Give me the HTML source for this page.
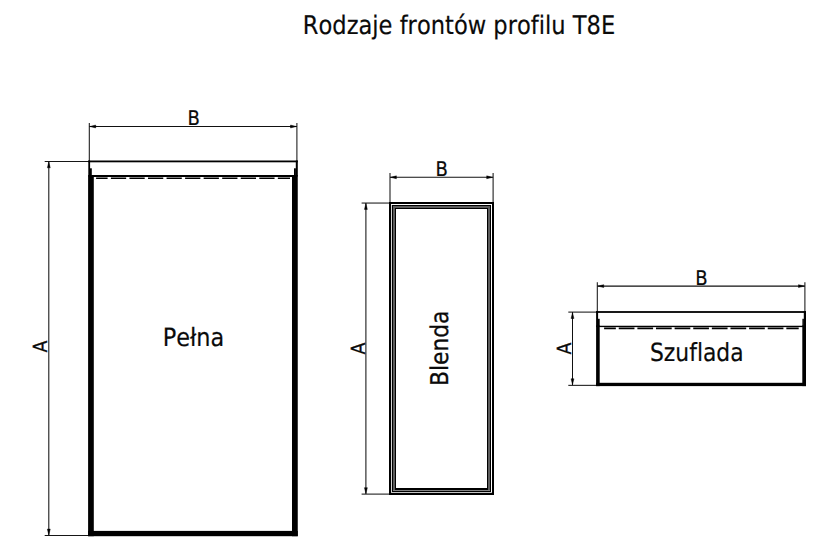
<!DOCTYPE html>
<html lang="pl">
<head>
<meta charset="utf-8">
<title>Rodzaje frontów profilu T8E</title>
<style>
html,body{margin:0;padding:0;background:#fff;}
body{width:836px;height:558px;overflow:hidden;}
svg{display:block;}
text{font-family:"DejaVu Sans","Liberation Sans",sans-serif;fill:#0a0a0a;stroke:#0a0a0a;stroke-width:0.2;text-rendering:geometricPrecision;font-variant-ligatures:none;font-feature-settings:"liga" 0,"clig" 0;font-kerning:none;}
.thin{stroke:#111;stroke-width:1.05;fill:none;}
.ext{stroke:#161616;stroke-width:1.05;fill:none;}
.k{fill:#000;}
.ar{fill:#000;stroke:#000;stroke-width:0.45;stroke-linejoin:round;}
</style>
</head>
<body>
<svg width="836" height="558" viewBox="0 0 836 558">
<rect width="836" height="558" fill="#fff"/>

<!-- title -->
<text x="302.8" y="33.8" font-size="25.7" textLength="312.4" lengthAdjust="spacingAndGlyphs">Rodzaje frontów profilu T8E</text>

<!-- ===== Pełna ===== -->
<g id="pelna">
  <line class="ext" x1="89.3" y1="122.9" x2="89.3" y2="161"/>
  <line class="ext" x1="296.9" y1="122.9" x2="296.9" y2="161"/>
  <line class="thin" x1="89.3" y1="126.5" x2="296.9" y2="126.5"/>
  <path class="ar" d="M89.90,126.50 L95.70,125.05 L95.70,127.95 Z"/>
  <path class="ar" d="M296.30,126.50 L290.50,125.05 L290.50,127.95 Z"/>
  <text x="187.4" y="124.6" font-size="20.2" textLength="12.4" lengthAdjust="spacingAndGlyphs">B</text>

  <line class="ext" x1="44.7" y1="161.4" x2="89" y2="161.4"/>
  <line class="ext" x1="44.7" y1="535.5" x2="89" y2="535.5"/>
  <line class="thin" x1="48.8" y1="161.4" x2="48.8" y2="535.5"/>
  <path class="ar" d="M48.80,162.00 L47.35,167.80 L50.25,167.80 Z"/>
  <path class="ar" d="M48.80,534.90 L47.35,529.10 L50.25,529.10 Z"/>
  <text transform="translate(47.3 352.5) rotate(-90)" style="stroke-width:0.32" font-size="19.5" textLength="11.9" lengthAdjust="spacingAndGlyphs">A</text>

  <!-- body -->
  <rect class="k" x="88.3" y="160.5" width="209.5" height="1.8"/>
  <rect class="k" x="88.3" y="160.6" width="1.8" height="16"/>
  <rect class="k" x="295.8" y="160.6" width="2" height="16"/>
  <rect class="k" x="90" y="168.3" width="1.8" height="8"/>
  <rect class="k" x="294" y="168.3" width="1.9" height="8"/>
  <rect class="k" x="88.1" y="175.1" width="5.7" height="361.1"/>
  <rect class="k" x="292" y="175.1" width="5.75" height="361.1"/>
  <rect class="k" x="88.1" y="530.9" width="209.65" height="5.3"/>
  <rect class="k" x="92" y="175" width="202" height="2"/>
  <line x1="96.1" y1="178.25" x2="290" y2="178.25" stroke="#000" stroke-width="1.45" stroke-dasharray="15.25 3.3" stroke-dashoffset="3.75"/>
  <text x="162.7" y="345.6" font-size="25.1" textLength="61.6" lengthAdjust="spacingAndGlyphs">Pełna</text>
</g>

<!-- ===== Blenda ===== -->
<g id="blenda">
  <line class="ext" x1="390" y1="172.9" x2="390" y2="203"/>
  <line class="ext" x1="493.1" y1="172.9" x2="493.1" y2="203"/>
  <line class="thin" x1="390" y1="177.3" x2="493.1" y2="177.3"/>
  <path class="ar" d="M390.60,177.30 L396.40,175.85 L396.40,178.75 Z"/>
  <path class="ar" d="M492.50,177.30 L486.70,175.85 L486.70,178.75 Z"/>
  <text x="435.5" y="175.8" font-size="20.2" textLength="12.4" lengthAdjust="spacingAndGlyphs">B</text>

  <line class="ext" x1="361.6" y1="203.05" x2="389" y2="203.05"/>
  <line class="ext" x1="361.6" y1="494.1" x2="389" y2="494.1"/>
  <line class="thin" x1="365.9" y1="203" x2="365.9" y2="494.1"/>
  <path class="ar" d="M365.90,203.60 L364.45,209.40 L367.35,209.40 Z"/>
  <path class="ar" d="M365.90,493.50 L364.45,487.70 L367.35,487.70 Z"/>
  <text transform="translate(364.8 354.5) rotate(-90)" style="stroke-width:0.32" font-size="19.5" textLength="11.9" lengthAdjust="spacingAndGlyphs">A</text>

  <rect x="390" y="203" width="103" height="291" fill="none" stroke="#000" stroke-width="2"/>
  <rect x="394" y="207" width="95" height="283" fill="none" stroke="#000" stroke-width="4"/>
  <path d="M394,207 V490.5 M489,207 V490.5" fill="none" stroke="#5c5c5c" stroke-width="2"/>
  <path d="M393,207 H490" fill="none" stroke="#5c5c5c" stroke-width="2"/>
  <path d="M393,490.5 H490" fill="none" stroke="#808080" stroke-width="1"/>
  <path d="M391,492.5 H492" fill="none" stroke="#c4c4c4" stroke-width="1"/>
  <path d="M391.5,205 V492" fill="none" stroke="#d4d4d4" stroke-width="1"/>
  <text transform="translate(448.3 385.9) rotate(-90)" style="stroke-width:0.32" font-size="24.4" textLength="75.3" lengthAdjust="spacingAndGlyphs">Blenda</text>
</g>

<!-- ===== Szuflada ===== -->
<g id="szuflada">
  <line class="ext" x1="597.3" y1="282.3" x2="597.3" y2="312"/>
  <line class="ext" x1="804.9" y1="282.3" x2="804.9" y2="312"/>
  <line class="thin" x1="597.3" y1="286.1" x2="804.9" y2="286.1"/>
  <path class="ar" d="M597.90,286.10 L603.70,284.65 L603.70,287.55 Z"/>
  <path class="ar" d="M804.30,286.10 L798.50,284.65 L798.50,287.55 Z"/>
  <text x="695.2" y="284.7" font-size="20.2" textLength="12.4" lengthAdjust="spacingAndGlyphs">B</text>

  <line class="ext" x1="568.3" y1="312.1" x2="597" y2="312.1"/>
  <line class="ext" x1="568.3" y1="385.35" x2="597" y2="385.35"/>
  <line class="thin" x1="572.5" y1="312.1" x2="572.5" y2="385.2"/>
  <path class="ar" d="M572.50,312.70 L571.05,318.50 L573.95,318.50 Z"/>
  <path class="ar" d="M572.50,384.60 L571.05,378.80 L573.95,378.80 Z"/>
  <text transform="translate(570.7 354.6) rotate(-90)" style="stroke-width:0.32" font-size="19.5" textLength="11.9" lengthAdjust="spacingAndGlyphs">A</text>

  <rect class="k" x="596.1" y="311.1" width="209.9" height="1.8"/>
  <rect class="k" x="596.1" y="311.1" width="2" height="16"/>
  <rect class="k" x="803.8" y="311.1" width="2.2" height="16"/>
  <rect class="k" x="598" y="318.8" width="1.7" height="7.5"/>
  <rect class="k" x="802.4" y="318.8" width="1.5" height="7.5"/>
  <rect class="k" x="596.1" y="325.4" width="3.6" height="60.7"/>
  <rect class="k" x="802.3" y="325.4" width="3.7" height="60.7"/>
  <rect class="k" x="596.1" y="382.8" width="209.9" height="3.3"/>
  <rect class="k" x="599" y="325.75" width="204" height="1.35"/>
  <line x1="604.1" y1="328.4" x2="798.7" y2="328.4" stroke="#000" stroke-width="1.6" stroke-dasharray="15.7 2.92" stroke-dashoffset="3.96"/>
  <text x="650.0" y="360.6" font-size="25.0" textLength="93.6" lengthAdjust="spacingAndGlyphs">Szuflada</text>
</g>
</svg>
</body>
</html>
